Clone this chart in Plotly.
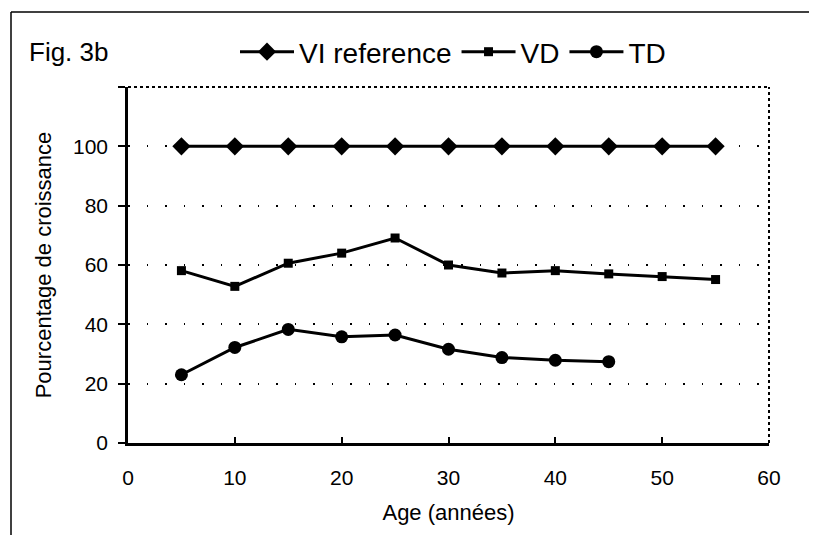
import plotly.graph_objects as go

# ---- data ----
age = [5, 10, 15, 20, 25, 30, 35, 40, 45, 50, 55]
vi_reference = [100, 100, 100, 100, 100, 100, 100, 100, 100, 100, 100]
vd = [58.1, 52.8, 60.6, 64.0, 69.1, 60.0, 57.3, 58.1, 57.0, 56.1, 55.1]
age_td = [5, 10, 15, 20, 25, 30, 35, 40, 45]
td = [23.0, 32.2, 38.3, 35.8, 36.4, 31.6, 28.8, 27.9, 27.4]

y_ticks = [0, 20, 40, 60, 80, 100, 120]
y_ticktext = ["0", "20", "40", "60", "80", "100", ""]
x_ticks = [0, 10, 20, 30, 40, 50, 60]

OFF = 8  # page body margin
W, H = 817 - OFF, 535 - OFF
# plot area in page pixels
PL, PR, PT, PB = 128, 769, 87, 443
ML, MR, MT, MB = PL - OFF, W - (PR - OFF), PT - OFF, H - (PB - OFF)
PW, PH = W - ML - MR, H - MT - MB

def px(x):  # page x -> paper
    return (x - PL) / PW

def py(y):  # page y -> paper
    return (PB - y) / PH

FONT = "Liberation Sans, Arial, Helvetica, sans-serif"

fig = go.Figure()
fig.add_trace(go.Scatter(x=age, y=vi_reference, name="VI reference", mode="lines+markers",
                         line=dict(color="black", width=3),
                         marker=dict(symbol="diamond", size=14, color="black")))
fig.add_trace(go.Scatter(x=age, y=vd, name="VD", mode="lines+markers",
                         line=dict(color="black", width=3),
                         marker=dict(symbol="square", size=9, color="black")))
fig.add_trace(go.Scatter(x=age_td, y=td, name="TD", mode="lines+markers",
                         line=dict(color="black", width=3),
                         marker=dict(symbol="circle", size=13, color="black")))

fig.update_layout(
    width=W, height=H,
    margin=dict(l=ML, r=MR, t=MT, b=MB, autoexpand=False),
    paper_bgcolor="white", plot_bgcolor="white",
    font=dict(family=FONT, color="black", size=21),
    showlegend=True,
    legend=dict(orientation="h", x=px(235), xanchor="left", y=py(52), yanchor="middle",
                font=dict(size=28), itemwidth=54, bgcolor="rgba(0,0,0,0)",
                tracegroupgap=0),
    xaxis=dict(range=[0, 60], tickvals=x_ticks, ticks="inside", ticklen=6, tickwidth=1.5,
               tickcolor="black", showline=True, linecolor="black", linewidth=2.5,
               showgrid=False, zeroline=False, ticklabelstandoff=14,
               title=dict(text="Age (années)", font=dict(size=22), standoff=17)),
    yaxis=dict(range=[0, 120], tickvals=y_ticks, ticktext=y_ticktext, ticks="outside",
               ticklen=7, tickwidth=1.5, tickcolor="black", showline=True,
               linecolor="black", linewidth=2.5, showgrid=True, gridcolor="black",
               gridwidth=1.5, griddash="1.5px,17px", zeroline=False,
               ticklabelstandoff=6,
               title=dict(text="Pourcentage de croissance", font=dict(size=22), standoff=16)),
    shapes=[
        dict(type="line", xref="paper", yref="paper", x0=0, x1=1, y0=1, y1=1,
             line=dict(color="black", width=2, dash="dot")),
        dict(type="line", xref="paper", yref="paper", x0=1, x1=1, y0=0, y1=1,
             line=dict(color="black", width=2, dash="dot")),
        dict(type="line", xref="paper", yref="paper", x0=px(11), x1=px(814), y0=py(12), y1=py(12),
             line=dict(color="black", width=1.5)),
        dict(type="line", xref="paper", yref="paper", x0=px(11), x1=px(11), y0=py(12), y1=py(545),
             line=dict(color="black", width=1.5)),
        dict(type="line", xref="paper", yref="paper", x0=px(814), x1=px(814), y0=py(12), y1=py(545),
             line=dict(color="black", width=1.5)),
    ],
    annotations=[
        dict(text="Fig. 3b", xref="paper", yref="paper", x=px(27), y=py(52),
             xanchor="left", yanchor="middle", showarrow=False, font=dict(size=26)),
    ],
)

fig.write_html("out.html")
